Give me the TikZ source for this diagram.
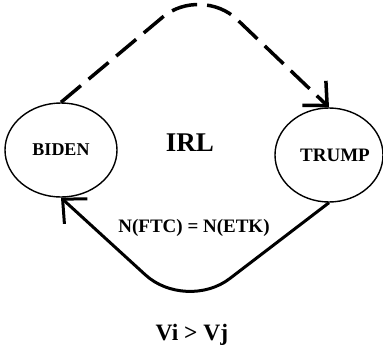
\documentclass[tikz,border=0pt]{standalone}
\usepackage{fontspec}
\setmainfont{Liberation Serif}
\usepackage{tikz}
\usetikzlibrary{shapes.geometric}
\usetikzlibrary{arrows.meta}
\usetikzlibrary{calc}

\begin{document}
\begin{tikzpicture}[x=1pt,y=-1pt,
party/.style={ellipse, draw, line width=1.4pt, inner sep=0pt},
txt/.style={font=\bfseries\fontsize{#1}{#1}\selectfont, inner sep=0pt, anchor=base},
barb/.style={-{Straight Barb[length=18pt,width=34pt]}}]
\useasboundingbox (0,0) rectangle (383,346);
\node (biden) at (61,150) [party, minimum width=112pt, minimum height=94pt] {\bfseries\fontsize{18}{18}\selectfont BIDEN};
\node (trump) at (329,155) [party, minimum width=108pt, minimum height=94pt,
  label={[font=\bfseries\fontsize{19}{19}\selectfont, xshift=6pt]center:TRUMP}] {};
\node (irl) at (190,151) [txt=27] {IRL};
\node (cond) at (194,232) [txt=19] {N(FTC) = N(ETK)};
\node (vv) at (192,340) [txt=23.5] {Vi > Vj};
\coordinate (top) at (201,-15);
\coordinate (bot) at (186,312);
\draw[barb, line width=3.5pt, dash pattern=on 26pt off 10pt, rounded corners=50pt] (biden.north) -- (top) -- (trump.north);
\draw[barb, line width=3pt, rounded corners=55pt] (trump.south) -- (bot) -- (biden.south);
\end{tikzpicture}
\end{document}
